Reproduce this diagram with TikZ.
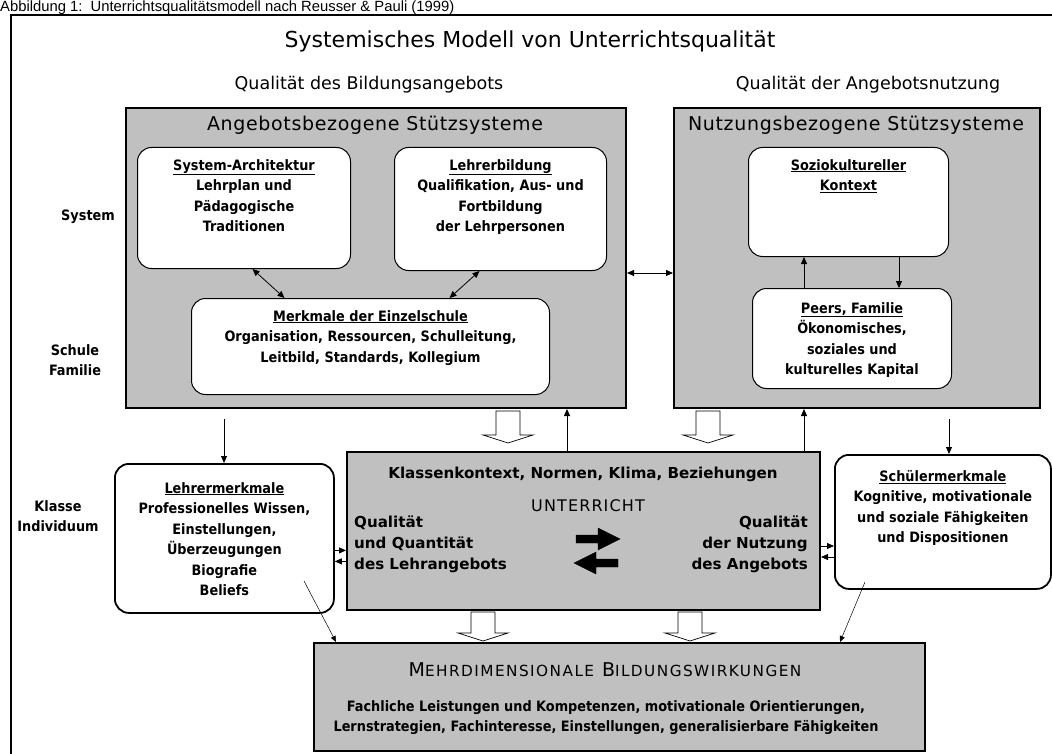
\documentclass[tikz,border=0pt]{standalone}
\usepackage{fontspec}
\setmainfont{DejaVu Sans}
\newfontfamily\boxfont{DejaVu Sans Condensed}
\newfontfamily\capfont{Liberation Sans}
\newfontfamily\vsp{DejaVu Sans}[LetterSpace=3.5]
\newfontfamily\vspw{DejaVu Sans}[LetterSpace=7]
\newfontfamily\vspx{DejaVu Sans}[LetterSpace=9.5]
\usetikzlibrary{arrows.meta,calc}
\definecolor{boxgray}{HTML}{C0C0C0}
\tikzset{
  graybox/.style={draw, line width=2pt, fill=boxgray, inner sep=0, anchor=north west},
  wbox/.style={draw, line width=1pt, fill=white, rounded corners=14pt, inner sep=0, anchor=north west},
  wboxthick/.style={wbox, line width=1.8pt},
  btxt/.style={font={\boxfont\bfseries\fontsize{14.3}{20.5}\selectfont}, align=center, anchor=north, inner sep=0},
  vtxt/.style={font={\fontsize{15}{21}\selectfont}, inner sep=0},
  vbold/.style={font={\bfseries\fontsize{15.1}{21}\selectfont}, inner sep=0},
  arr/.style={-{Triangle[length=7pt,width=6pt]}, line width=0.8pt},
  darr/.style={{Triangle[length=7pt,width=6pt]}-{Triangle[length=7pt,width=6pt]}, line width=0.8pt},
  thinarr/.style={-{Triangle[length=6pt,width=5pt]}, line width=0.5pt},
  hollow/.style={draw, fill=white, line width=0.7pt},
  bigarr/.style={fill=black},
}
\begin{document}
\begin{tikzpicture}[x=1pt,y=-1pt]
\useasboundingbox (0,0) rectangle (1052,754);
% caption
\node[font={\capfont\fontsize{14.8}{18}\selectfont}, anchor=base west, inner sep=0] (cap) at (0,12) {Abbildung 1:\ \ Unterrichtsqualitätsmodell nach Reusser \& Pauli (1999)};
% frame
\draw[line width=2pt] (11,760) -- (11,15) -- (1060,15);
% title
\node[font={\fontsize{22}{26}\selectfont}, inner sep=0] (title) at (530,41) {Systemisches Modell von Unterrichtsqualität};
\node[vtxt, font={\fontsize{17.5}{20}\selectfont}] (subl) at (369,85) {Qualität des Bildungsangebots};
\node[vtxt, font={\fontsize{17.5}{20}\selectfont}] (subr) at (868,85) {Qualität der Angebotsnutzung};

% gray boxes
\node[graybox, minimum width=500pt, minimum height=300pt] (angebot) at (125,107) {};
\node[graybox, minimum width=366pt, minimum height=300pt] (nutz) at (673,107) {};
\node[vtxt, font={\vsp\fontsize{19}{22}\selectfont}] (angt) at (375,125) {Angebotsbezogene Stützsysteme};
\node[vtxt, font={\vsp\fontsize{19}{22}\selectfont}] (nutzt) at (856,125) {Nutzungsbezogene Stützsysteme};

% inner boxes left
\node[wbox, minimum width=213pt, minimum height=121pt] (sysbox) at (137,147) {};
\node[btxt] (systxt) at ([yshift=-12pt]sysbox.north) {\underline{System-Architektur}\\Lehrplan und\\Pädagogische\\Traditionen};
\node[wbox, minimum width=212pt, minimum height=123pt] (lehrbox) at (394,147) {};
\node[btxt] (lehrtxt) at ([yshift=-12pt]lehrbox.north) {\underline{Lehrerbildung}\\Qualifikation, Aus- und\\Fortbildung\\der Lehrpersonen};
\node[wbox, minimum width=358pt, minimum height=96pt] (merkbox) at (191,298) {};
\node[btxt] (merktxt) at ([yshift=-12pt]merkbox.north) {\underline{Merkmale der Einzelschule}\\Organisation, Ressourcen, Schulleitung,\\Leitbild, Standards, Kollegium};

% inner boxes right
\node[wbox, minimum width=200pt, minimum height=109pt] (soziobox) at (748,147) {};
\node[btxt] (soziotxt) at ([yshift=-12pt]soziobox.north) {\underline{Soziokultureller}\\\underline{Kontext}};
\node[wbox, minimum width=199pt, minimum height=100pt] (peersbox) at (752,288) {};
\node[btxt] (peerstxt) at ([yshift=-14pt]peersbox.north) {\underline{Peers, Familie}\\Ökonomisches,\\soziales und\\kulturelles Kapital};

% side labels
\node[btxt, anchor=center] (lsys) at (88,217) {System};
\node[btxt, anchor=center] (lschule) at (75,360) {Schule\\Familie};
\node[btxt, anchor=center] (lklasse) at (58,516) {Klasse\\Individuum};

% middle row
\node[wboxthick, minimum width=219pt, minimum height=149pt] (lehrerm) at (114,463) {};
\node[btxt] (lehrermt) at ([yshift=-19pt]lehrerm.north) {\underline{Lehrermerkmale}\\Professionelles Wissen,\\Einstellungen,\\Überzeugungen\\Biografie\\Beliefs};
\node[graybox, minimum width=473pt, minimum height=158pt] (unt) at (346,451) {};
\node[vbold] (untk) at (583,474) {Klassenkontext, Normen, Klima, Beziehungen};
\node[vtxt, font={\vspw\fontsize{16}{20}\selectfont}] (untt) at (588,506) {UNTERRICHT};
\node[vbold, align=left, anchor=north west] (untl) at (354,516) {Qualität\\und Quantität\\des Lehrangebots};
\node[vbold, align=right, anchor=north east] (untr) at (808,516) {Qualität\\der Nutzung\\des Angebots};
\node[wboxthick, minimum width=216pt, minimum height=134pt] (schuel) at (834,454) {};
\node[btxt] (schuelt) at ([yshift=-16pt]schuel.north) {\underline{Schülermerkmale}\\Kognitive, motivationale\\und soziale Fähigkeiten\\und Dispositionen};

% bottom box
\node[graybox, minimum width=611pt, minimum height=108pt] (wirk) at (313,642) {};
\node[vtxt, font={\vspx\fontsize{19}{22}\selectfont}] (wirkt) at (605,670) {M{\fontsize{15.3}{18}\selectfont EHRDIMENSIONALE} B{\fontsize{15.3}{18}\selectfont ILDUNGSWIRKUNGEN}};
\node[btxt] (wirktxt) at (606,700) {Fachliche Leistungen und Kompetenzen, motivationale Orientierungen,\\Lernstrategien, Fachinteresse, Einstellungen, generalisierbare Fähigkeiten};

% black thick arrows in UNTERRICHT
\draw[bigarr] (576,535) -- (598,535) -- (598,528) -- (620,539) -- (598,550) -- (598,543) -- (576,543) -- cycle;
\draw[bigarr] (618,559) -- (596,559) -- (596,552) -- (574,563) -- (596,574) -- (596,567) -- (618,567) -- cycle;

% hollow arrows
\foreach \n/\cx/\ty/\by in {ha1/508/411/443, ha2/708/411/443, ha3/483/612/641, ha4/690/612/641}{
  \draw[hollow] (\cx-12,\ty) -- (\cx+12,\ty) -- (\cx+12,\by-8) -- (\cx+25,\by-8) -- (\cx,\by) -- (\cx-25,\by-8) -- (\cx-12,\by-8) -- cycle;
}

% connectors
\draw[darr] ([xshift=8.5pt]sysbox.south) -- ([xshift=-86pt]merkbox.north);
\draw[darr] ([xshift=-21pt]lehrbox.south) -- ([xshift=79pt]merkbox.north);
\draw[darr] ([yshift=-15pt]angebot.east) -- ([yshift=-15pt]nutz.west);
\coordinate (x804) at (804,0);
\coordinate (x899) at (899,0);
\coordinate (x567) at (567,0);
\draw[arr] (peersbox.north -| x804) -- (soziobox.south -| x804);
\draw[arr] (soziobox.south -| x899) -- (peersbox.north -| x899);
\draw[arr] (unt.north -| x567) -- (angebot.south -| x567);
\draw[arr] (unt.north -| x804) -- (nutz.south -| x804);
\coordinate (lstart) at (224,419);
\coordinate (rstart) at (949,419);
\draw[arr] (lstart) -- (lehrerm.north -| lstart);
\draw[arr] (rstart) -- (schuel.north -| rstart);
% small side arrows
\draw[arr] ([yshift=-12pt]lehrerm.east) -- ([yshift=-12pt]lehrerm.east -| unt.west);
\draw[arr] ([yshift=-23pt]lehrerm.east -| unt.west) -- ([yshift=-23pt]lehrerm.east);
\draw[arr] ([yshift=-15pt]unt.east) -- ([yshift=-15pt]unt.east -| schuel.west);
\draw[arr] ([yshift=-26pt]unt.east -| schuel.west) -- ([yshift=-26pt]unt.east);
% diagonal
\coordinate (ld) at (304,581);
\coordinate (rd) at (865,582);
\draw[thinarr] (ld) -- (wirk.north -| 336,0);
\draw[thinarr] (rd) -- (wirk.north -| 840,0);
\end{tikzpicture}
\end{document}
